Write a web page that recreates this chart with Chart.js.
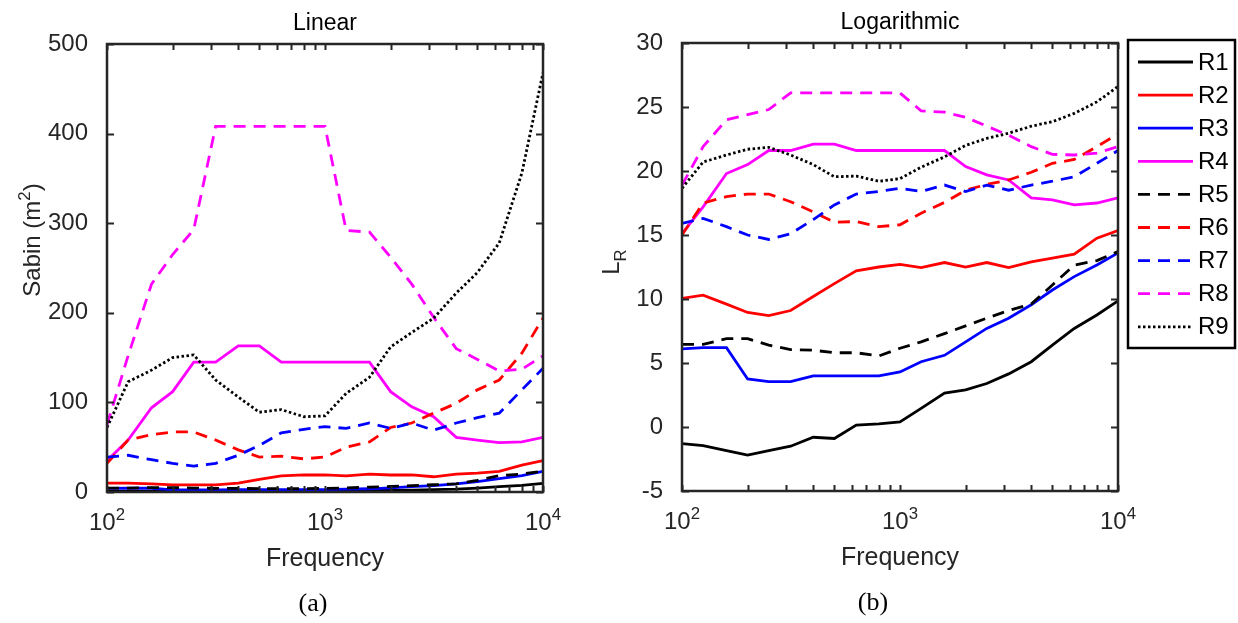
<!DOCTYPE html>
<html lang="en">
<head>
    <meta charset="UTF-8">
    <title>Sabin and L_R vs frequency</title>
    <script src="https://cdn.jsdelivr.net/npm/chart.js"></script>
    <style>
        body { margin: 0; background: #fff; }
        #wrap { position: relative; width: 1238px; height: 623px; }
        #wrap canvas { position: absolute; top: 0; }
    </style>
</head>
<body>
    <div id="wrap">
        <canvas id="chartA" width="600" height="623" style="left:0px"></canvas>
        <canvas id="chartB" width="638" height="623" style="left:600px"></canvas>
    </div>
    <script>
        // 1/3 octave band centre frequencies (Hz)
        const freqs = [100, 125, 160, 200, 250, 315, 400, 500, 630, 800, 1000, 1250, 1600, 2000, 2500, 3150, 4000, 5000, 6300, 8000, 10000];
        const seriesNames = ['R1', 'R2', 'R3', 'R4', 'R5', 'R6', 'R7', 'R8', 'R9'];

        // (a) Sabin (m^2), linear
        const sabinR1 = [0.7, 0.7, 0.65, 0.6, 0.65, 0.7, 0.8, 0.8, 1.0, 1.1, 1.1, 1.4, 1.8, 1.9, 2.2, 2.6, 3.2, 4.4, 5.9, 7.5, 9.7];
        const sabinR2 = [10, 10, 9, 8, 8, 8, 10, 14, 18, 19, 19, 18, 20, 19, 19, 17, 20, 21, 23, 30, 35];
        const sabinR3 = [4.1, 4.2, 4.2, 2.4, 2.3, 2.3, 2.5, 2.5, 2.5, 2.5, 2.7, 3.2, 3.6, 4.6, 5.9, 7.1, 9, 11.7, 15, 18.4, 23];
        const sabinR4 = [35, 58, 94, 112, 145, 145, 163, 163, 145, 145, 145, 145, 145, 112, 95, 84, 61, 58, 55, 56, 61];
        const sabinR5 = [4.4, 4.4, 4.9, 4.9, 4.4, 4, 4, 3.8, 3.8, 3.6, 4.1, 4.6, 5.4, 6.2, 7.1, 8.1, 9.1, 13, 18.4, 20, 23.4];
        const sabinR6 = [32, 58, 64, 67, 67, 58, 47, 39, 40, 37, 39, 50, 56, 72, 77, 88, 99, 114, 125, 155, 194];
        const sabinR7 = [39, 41, 36, 32, 29, 32, 41, 52, 66, 70, 73, 71, 77, 71, 77, 69, 77, 83, 88, 114, 138];
        const sabinR8 = [75, 152, 232, 265, 293, 408, 408, 408, 408, 408, 408, 292, 290, 262, 232, 195, 160, 148, 135, 137, 152];
        const sabinR9 = [72, 123, 136, 150, 153, 125, 106, 89, 92, 84, 85, 110, 128, 162, 178, 194, 222, 245, 278, 356, 468];

        // (b) L_R, logarithmic
        const lrR1 = [-1.3, -1.45, -1.85, -2.2, -1.85, -1.5, -0.8, -0.9, 0.15, 0.25, 0.4, 1.45, 2.65, 2.9, 3.4, 4.15, 5.1, 6.4, 7.7, 8.75, 9.85];
        const lrR2 = [10.05, 10.3, 9.6, 8.95, 8.7, 9.1, 10.2, 11.2, 12.2, 12.5, 12.7, 12.45, 12.85, 12.5, 12.85, 12.45, 12.9, 13.2, 13.5, 14.75, 15.35];
        const lrR3 = [6.1, 6.2, 6.2, 3.75, 3.55, 3.55, 4.0, 4.0, 4.0, 4.0, 4.3, 5.1, 5.6, 6.65, 7.7, 8.5, 9.55, 10.7, 11.75, 12.65, 13.6];
        const lrR4 = [15.1, 17.2, 19.8, 20.5, 21.6, 21.6, 22.1, 22.1, 21.6, 21.6, 21.6, 21.6, 21.6, 20.35, 19.7, 19.3, 17.9, 17.75, 17.35, 17.5, 17.9];
        const lrR5 = [6.45, 6.45, 6.9, 6.9, 6.4, 6.05, 6.0, 5.8, 5.8, 5.55, 6.15, 6.65, 7.3, 7.9, 8.5, 9.1, 9.6, 11.1, 12.65, 13.0, 13.7];
        const lrR6 = [15.0, 17.5, 18.0, 18.2, 18.2, 17.6, 16.8, 16.0, 16.05, 15.65, 15.8, 16.7, 17.55, 18.5, 18.95, 19.3, 19.9, 20.6, 20.9, 21.9, 22.9];
        const lrR7 = [15.9, 16.3, 15.65, 15.0, 14.65, 15.1, 16.2, 17.35, 18.2, 18.4, 18.65, 18.4, 18.9, 18.4, 18.9, 18.5, 18.9, 19.2, 19.55, 20.6, 21.6];
        const lrR8 = [18.9, 21.9, 24.0, 24.4, 24.8, 26.1, 26.1, 26.1, 26.1, 26.1, 26.1, 24.7, 24.6, 24.2, 23.5, 22.8, 21.9, 21.3, 21.25, 21.4, 21.9];
        const lrR9 = [18.65, 20.7, 21.25, 21.7, 21.85, 21.25, 20.5, 19.55, 19.6, 19.2, 19.4, 20.3, 21.1, 22.0, 22.55, 22.95, 23.5, 23.85, 24.5, 25.4, 26.6];

        // x tick labels (10^n) at the decades
        const xMajorTicks = [100, 1000, 10000];
        const xTickLabels = ['10^2', '10^3', '10^4'];

        const sabinSeries = [sabinR1, sabinR2, sabinR3, sabinR4, sabinR5, sabinR6, sabinR7, sabinR8, sabinR9];
        const lrSeries = [lrR1, lrR2, lrR3, lrR4, lrR5, lrR6, lrR7, lrR8, lrR9];

        const colors = ['#000000', '#ff0000', '#0000ff', '#ff00ff', '#000000', '#ff0000', '#0000ff', '#ff00ff', '#000000'];
        const dashes = [[], [], [], [], [12, 8], [12, 8], [12, 8], [12, 8], [2.5, 2.5]];

        const FONT = "'Liberation Sans', Arial, sans-serif";
        const AXIS = '#262626';

        // text with ^x / _x super- and subscripts, centred on (cx, cy)
        function drawRich(ctx, text, cx, cy, size, family) {
            const parts = [];
            text.split(/([\^_].)/).forEach(s => {
                if (!s) return;
                if (s[0] === '^') parts.push({ t: s.slice(1), k: 0.7, dy: -0.42 });
                else if (s[0] === '_') parts.push({ t: s.slice(1), k: 0.7, dy: 0.3 });
                else parts.push({ t: s, k: 1, dy: 0 });
            });
            let w = 0;
            parts.forEach(p => {
                ctx.font = (size * p.k) + 'px ' + family;
                p.w = ctx.measureText(p.t).width;
                w += p.w;
            });
            let x = cx - w / 2;
            const base = cy + size * 0.36;
            ctx.textAlign = 'left';
            ctx.textBaseline = 'alphabetic';
            parts.forEach(p => {
                ctx.font = (size * p.k) + 'px ' + family;
                ctx.fillText(p.t, x, base + p.dy * size);
                x += p.w;
            });
        }

        // matlab-like box, inward ticks, titles and labels
        const axesDecor = {
            id: 'axesDecor',
            afterDraw(chart, args, o) {
                const ctx = chart.ctx, a = chart.chartArea;
                const xs = chart.scales.x, ys = chart.scales.y;
                const midX = (a.left + a.right) / 2;
                ctx.save();
                ctx.strokeStyle = AXIS;
                ctx.lineWidth = 2;
                ctx.beginPath();
                const e0 = Math.floor(Math.log10(xs.min)), e1 = Math.ceil(Math.log10(xs.max));
                for (let e = e0; e <= e1; e++) {
                    for (let m = 1; m < 10; m++) {
                        const v = m * Math.pow(10, e);
                        if (v < xs.min || v > xs.max) continue;
                        const px = Math.round(xs.getPixelForValue(v)) + 0.5;
                        ctx.moveTo(px, a.bottom); ctx.lineTo(px, a.bottom - 6);
                        ctx.moveTo(px, a.top); ctx.lineTo(px, a.top + 6);
                    }
                }
                ys.ticks.forEach(t => {
                    const py = Math.round(ys.getPixelForValue(t.value)) + 0.5;
                    ctx.moveTo(a.left, py); ctx.lineTo(a.left + 7, py);
                    ctx.moveTo(a.right, py); ctx.lineTo(a.right - 7, py);
                });
                ctx.stroke();
                ctx.lineWidth = 2.5;
                ctx.strokeRect(a.left, a.top, a.right - a.left, a.bottom - a.top);

                ctx.fillStyle = AXIS;
                xMajorTicks.forEach((v, i) => {
                    drawRich(ctx, xTickLabels[i], xs.getPixelForValue(v), a.bottom + 29, 24, FONT);
                });
                drawRich(ctx, o.xlabel, midX, a.bottom + 65, 25, FONT);
                ctx.fillStyle = '#000';
                drawRich(ctx, o.title, midX, a.top - 22, 23, FONT);
                drawRich(ctx, o.tag, midX + o.tagDx, a.bottom + 110, 26, "'Liberation Serif', 'Times New Roman', serif");

                ctx.fillStyle = AXIS;
                ctx.translate(a.left + o.ylabelDx, o.ylabelY);
                ctx.rotate(-Math.PI / 2);
                drawRich(ctx, o.ylabel, 0, 0, 24, FONT);
                ctx.restore();
            }
        };

        // boxed legend to the right of panel (b)
        const boxLegend = {
            id: 'boxLegend',
            afterDraw(chart, args, o) {
                const ctx = chart.ctx, a = chart.chartArea;
                const left = a.right + 10, top = a.top - 3;
                ctx.save();
                ctx.strokeStyle = '#000';
                ctx.lineWidth = 2.5;
                ctx.setLineDash([]);
                ctx.strokeRect(left, top, 107, 308);
                chart.data.datasets.forEach((ds, i) => {
                    const y = top + 22 + i * 33.1;
                    ctx.strokeStyle = ds.borderColor;
                    ctx.lineWidth = ds.borderWidth;
                    ctx.setLineDash(ds.borderDash);
                    ctx.beginPath();
                    ctx.moveTo(left + 10, y);
                    ctx.lineTo(left + 65, y);
                    ctx.stroke();
                    ctx.fillStyle = '#000';
                    ctx.font = '24px ' + FONT;
                    ctx.textAlign = 'left';
                    ctx.textBaseline = 'middle';
                    ctx.fillText(ds.label, left + 70, y + 1);
                });
                ctx.restore();
            }
        };

        function makeDatasets(series) {
            return series.map((vals, i) => ({
                label: seriesNames[i],
                data: freqs.map((f, j) => ({ x: f, y: vals[j] })),
                borderColor: colors[i],
                borderDash: dashes[i],
                borderWidth: 2.8,
                pointRadius: 0,
                tension: 0,
                fill: false,
                order: seriesNames.length - i
            }));
        }

        function makeChart(id, series, yMin, yMax, yStep, yWidth, pad, decor, extraPlugins) {
            return new Chart(document.getElementById(id), {
                type: 'line',
                data: { datasets: makeDatasets(series) },
                options: {
                    responsive: false,
                    animation: false,
                    layout: { padding: pad },
                    scales: {
                        x: {
                            type: 'logarithmic',
                            min: 100,
                            max: 10000,
                            grid: { display: false },
                            border: { display: false },
                            ticks: { display: false },
                            afterFit: s => { s.height = 0; }
                        },
                        y: {
                            min: yMin,
                            max: yMax,
                            grid: { display: false },
                            border: { display: false },
                            ticks: {
                                stepSize: yStep,
                                padding: 11,
                                color: AXIS,
                                font: { family: FONT, size: 24 }
                            },
                            afterFit: s => { s.width = yWidth; }
                        }
                    },
                    plugins: {
                        legend: { display: false },
                        tooltip: { enabled: false },
                        axesDecor: decor
                    }
                },
                plugins: [axesDecor].concat(extraPlugins)
            });
        }

        makeChart('chartA', sabinSeries, 0, 500, 100, 107,
            { left: 0, right: 57, top: 44, bottom: 131 },
            { title: 'Linear', xlabel: 'Frequency', ylabel: 'Sabin (m^2)', ylabelDx: -76, ylabelY: 240, tag: '(a)', tagDx: -12 },
            []);

        makeChart('chartB', lrSeries, -5, 30, 5, 82,
            { left: 0, right: 120, top: 43, bottom: 132 },
            { title: 'Logarithmic', xlabel: 'Frequency', ylabel: 'L_R', ylabelDx: -72, ylabelY: 262, tag: '(b)', tagDx: -27 },
            [boxLegend]);
    </script>
</body>
</html>
